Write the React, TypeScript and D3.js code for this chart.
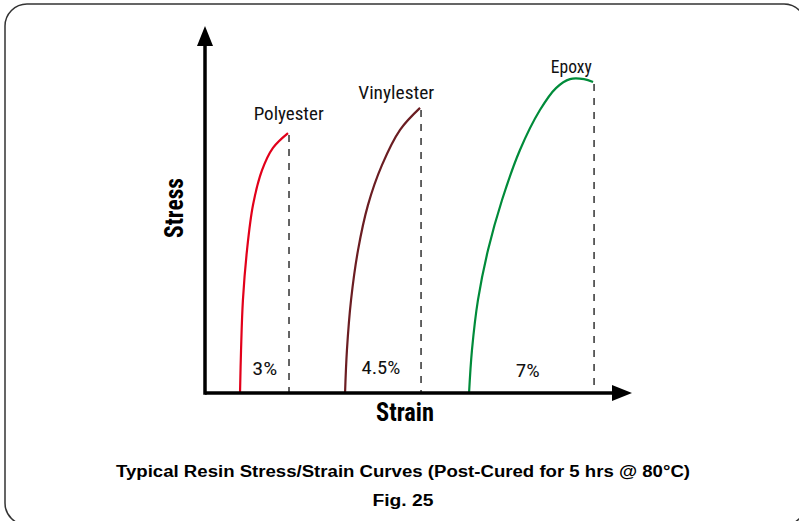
import * as d3 from "d3";
import { useEffect, useRef } from "react";

// strain (axis units) and stress (axis units)
const resins = ["Polyester", "Vinylester", "Epoxy"];
const colors = ["#e2001a", "#6b1d22", "#008b3a"];
const failLabels = ["3%", "4.5%", "7%"];

const polyStrain = [2.05, 2.11, 2.22, 2.46, 2.81, 3.34, 3.98, 4.86];
const polyStress = [0, 11.9, 25.8, 39.7, 52.2, 61.9, 68.1, 72.2];
const vinylStrain = [8.2, 8.31, 8.55, 8.96, 9.54, 10.36, 11.42, 12.59];
const vinylStress = [0, 11.9, 25.8, 39.7, 52.2, 63.3, 73.1, 79.2];
const epoxyStrain = [15.46, 15.63, 15.98, 16.57, 17.39, 18.44, 19.61, 20.55, 21.37, 22.19, 22.72];
const epoxyStress = [0, 11.9, 25.8, 39.7, 53.6, 67.5, 78.6, 84.7, 87.2, 87.2, 86.4];

// label anchors (axis units)
const nameX = [4.9, 11.2, 21.45];
const nameY = [75.8, 81.7, 88.9];
const pctX = [3.5, 10.3, 18.9];
const pctY = [5, 5.3, 4.4];

export default function App() {
    const ref = useRef(null);
    const width = 799,
        height = 521;

    useEffect(() => {
        const svg = d3.select(ref.current);
        svg.selectAll("*").remove();

        const x = d3.scaleLinear().domain([0, 25]).range([205, 632]);
        const y = d3.scaleLinear().domain([0, 100]).range([393, 33]);

        // frame
        svg.append("rect")
            .attr("x", 5).attr("y", 4)
            .attr("width", 801).attr("height", 521)
            .attr("rx", 22)
            .attr("fill", "none")
            .attr("stroke", "#333")
            .attr("stroke-width", 1.5);

        const series = [
            polyStrain.map((s, i) => [s, polyStress[i]]),
            vinylStrain.map((s, i) => [s, vinylStress[i]]),
            epoxyStrain.map((s, i) => [s, epoxyStress[i]]),
        ];

        const line = d3.line<number[]>()
            .x(d => x(d[0]))
            .y(d => y(d[1]))
            .curve(d3.curveCatmullRom);

        // dashed failure lines
        series.forEach((pts) => {
            const last = pts[pts.length - 1];
            svg.append("line")
                .attr("x1", x(last[0]) + 1).attr("x2", x(last[0]) + 1)
                .attr("y1", y(last[1]) + 2).attr("y2", y(0))
                .attr("stroke", "#111")
                .attr("stroke-width", 1.3)
                .attr("stroke-dasharray", "7,7");
        });

        svg.selectAll("path.curve")
            .data(series)
            .join("path")
            .attr("class", "curve")
            .attr("d", d => line(d))
            .attr("fill", "none")
            .attr("stroke", (_d, i) => colors[i])
            .attr("stroke-width", 2.2);

        // axes
        const x0 = x(0), y0 = y(0);
        svg.append("line")
            .attr("x1", x0).attr("x2", x(25) - 15)
            .attr("y1", y0).attr("y2", y0)
            .attr("stroke", "#000").attr("stroke-width", 3.5);
        svg.append("line")
            .attr("x1", x0).attr("x2", x0)
            .attr("y1", y0 + 1.7).attr("y2", 40)
            .attr("stroke", "#000").attr("stroke-width", 3.5);
        svg.append("path")
            .attr("d", `M${x(25)},${y0} L${x(25) - 20},${y0 - 8} L${x(25) - 20},${y0 + 8} Z`)
            .attr("fill", "#000");
        svg.append("path")
            .attr("d", `M${x0},26 L${x0 - 8},46 L${x0 + 8},46 Z`)
            .attr("fill", "#000");

        const cond = "'Roboto Condensed', Roboto, 'Liberation Sans', sans-serif";

        svg.selectAll("text.name")
            .data(resins)
            .join("text")
            .attr("class", "name")
            .attr("x", (_d, i) => x(nameX[i]))
            .attr("y", (_d, i) => y(nameY[i]))
            .attr("text-anchor", "middle")
            .attr("textLength", (_d, i) => [70, 76, 41][i])
            .attr("lengthAdjust", "spacingAndGlyphs")
            .style("font-family", cond)
            .style("font-size", "19px")
            .style("fill", "#111")
            .text(d => d);

        svg.selectAll("text.pct")
            .data(failLabels)
            .join("text")
            .attr("class", "pct")
            .attr("x", (_d, i) => x(pctX[i]))
            .attr("y", (_d, i) => y(pctY[i]))
            .attr("text-anchor", "middle")
            .attr("textLength", (_d, i) => [25, 39, 24][i])
            .attr("lengthAdjust", "spacingAndGlyphs")
            .style("font-family", cond)
            .style("font-size", "18px")
            .style("fill", "#111")
            .text(d => d);

        svg.append("text")
            .attr("x", 405).attr("y", 421)
            .attr("text-anchor", "middle")
            .attr("textLength", 58)
            .attr("lengthAdjust", "spacingAndGlyphs")
            .style("font-family", cond)
            .style("font-weight", "bold")
            .style("font-size", "25px")
            .text("Strain");

        svg.append("text")
            .attr("transform", "translate(183,208) rotate(-90)")
            .attr("text-anchor", "middle")
            .attr("textLength", 60)
            .attr("lengthAdjust", "spacingAndGlyphs")
            .style("font-family", cond)
            .style("font-weight", "bold")
            .style("font-size", "25px")
            .text("Stress");

        svg.append("text")
            .attr("x", 403).attr("y", 477)
            .attr("text-anchor", "middle")
            .attr("textLength", 574)
            .attr("lengthAdjust", "spacingAndGlyphs")
            .style("font-family", "'Liberation Sans', Arial, sans-serif")
            .style("font-weight", "bold")
            .style("font-size", "16px")
            .text("Typical Resin Stress/Strain Curves (Post-Cured for 5 hrs @ 80°C)");

        svg.append("text")
            .attr("x", 403).attr("y", 506)
            .attr("text-anchor", "middle")
            .attr("textLength", 61)
            .attr("lengthAdjust", "spacingAndGlyphs")
            .style("font-family", "'Liberation Sans', Arial, sans-serif")
            .style("font-weight", "bold")
            .style("font-size", "16px")
            .text("Fig. 25");
    }, []);

    return (
        <div>
            <svg ref={ref} width={width} height={height}
                style={{ position: "absolute", left: 0, top: 0, background: "#fff" }}>
            </svg>
        </div>
    );
}
